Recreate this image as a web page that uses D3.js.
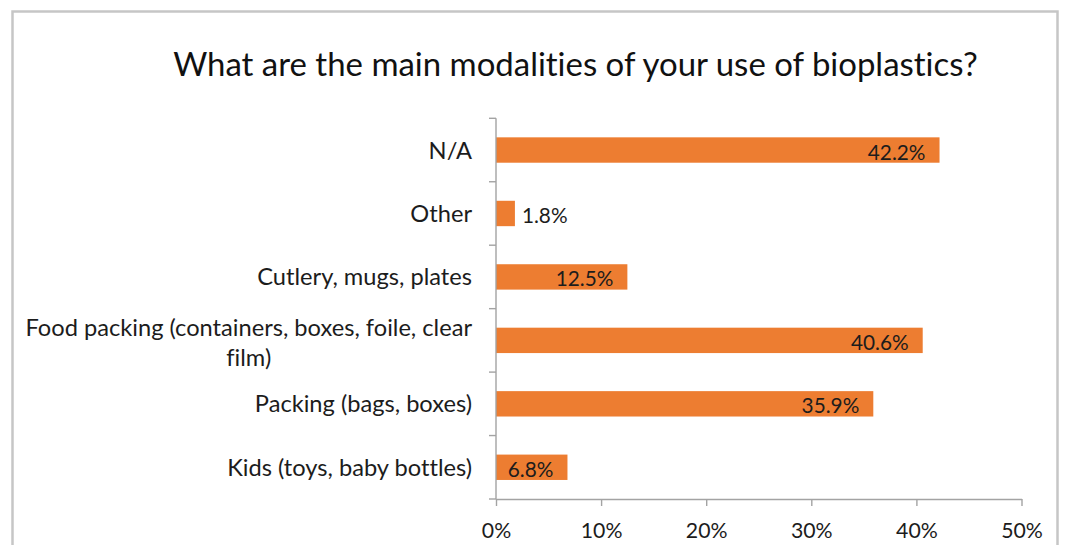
<!DOCTYPE html>
<html><head><meta charset="utf-8">
<script src="https://cdn.jsdelivr.net/npm/d3@7"></script>
<style>body{margin:0;background:#fff;} svg{display:block;} text{font-variant-ligatures:none;font-feature-settings:"liga" 0;}</style>
</head><body>
<svg id="chart" width="1065" height="545"></svg>
<script>
// ---- data ----
const title = "What are the main modalities of your use of bioplastics?";
const categories = ["N/A", "Other", "Cutlery, mugs, plates",
  "Food packing (containers, boxes, foile, clear film)",
  "Packing (bags, boxes)", "Kids (toys, baby bottles)"];
const values = [42.2, 1.8, 12.5, 40.6, 35.9, 6.8];
const valueLabels = ["42.2%", "1.8%", "12.5%", "40.6%", "35.9%", "6.8%"];
const xTicks = [0, 10, 20, 30, 40, 50];
const xTickLabels = ["0%", "10%", "20%", "30%", "40%", "50%"];

// ---- style / layout ----
const FONT = "Lato, 'Open Sans', sans-serif";
const TEXT = "#1c1c1c";
const AXIS = "#a3a3a3";
const BAR = "#ED7D31";
const plot = {left: 496, right: 1021.5, top: 118.3, bottom: 499};

const svg = d3.select("#chart");
function measure(text, size) {
  const t = svg.append("text").attr("font-family", FONT).attr("font-size", size).text(text);
  const w = t.node().getComputedTextLength(); t.remove(); return w;
}
const catSize = 100 * 245 / measure("Kids (toys, baby bottles)", 100);
const tickSize = 100 * 41.7 / measure("10%", 100);
const valSize = 100 * 57.7 / measure("42.2%", 100);
const titleSize = 100 * 805 / measure(title, 100);

// border
svg.append("rect").attr("x", 12.5).attr("y", 11.5).attr("width", 1045).attr("height", 560)
  .attr("fill", "none").attr("stroke", "#c6c6c6").attr("stroke-width", 2.5);

// title
svg.append("text").attr("x", 575.5).attr("y", 76).attr("text-anchor", "middle")
  .attr("font-family", FONT).attr("font-size", titleSize).attr("fill", "#111").text(title);

// scales
const x = d3.scaleLinear().domain([0, 50]).range([plot.left, plot.right]);
const y = d3.scaleBand().domain(categories).range([plot.top, plot.bottom])
  .paddingInner(0.6).paddingOuter(0.3);

// bars
svg.append("g").selectAll("rect").data(categories).join("rect")
  .attr("x", x(0)).attr("y", d => y(d))
  .attr("width", (d, i) => x(values[i]) - x(0)).attr("height", y.bandwidth())
  .attr("fill", BAR);

// x axis
const xAxis = d3.axisBottom(x).tickValues(xTicks).tickFormat((d, i) => xTickLabels[i])
  .tickSizeInner(7).tickSizeOuter(0).tickPadding(17);
const gx = svg.append("g").attr("transform", `translate(0,${plot.bottom})`).call(xAxis);
gx.select(".domain").attr("stroke", AXIS).attr("stroke-width", 1.4);
gx.selectAll(".tick line").attr("stroke", AXIS).attr("stroke-width", 1.4);
gx.selectAll(".tick text").attr("font-family", FONT).attr("font-size", tickSize).attr("fill", TEXT);

// y axis (category boundaries)
const gy = svg.append("g");
gy.append("line").attr("x1", x(0)).attr("x2", x(0)).attr("y1", plot.top).attr("y2", plot.bottom)
  .attr("stroke", AXIS).attr("stroke-width", 1.4);
const bounds = d3.range(categories.length + 1).map(i => y.range()[0] + i * y.step());
gy.selectAll("line.tk").data(bounds).join("line").attr("class", "tk")
  .attr("x1", x(0) - 7).attr("x2", x(0)).attr("y1", d => d).attr("y2", d => d)
  .attr("stroke", AXIS).attr("stroke-width", 1.4);

// category labels with wrapping
const labelRight = 472, maxW = 462, lineH = 30;
function wrap(text) {
  const words = text.split(" "); const lines = []; let cur = "";
  for (const w of words) {
    const test = cur ? cur + " " + w : w;
    if (cur && measure(test, catSize) > maxW) { lines.push(cur); cur = w; } else cur = test;
  }
  lines.push(cur); return lines;
}
categories.forEach(c => {
  const lines = wrap(c);
  const cy = y(c) + y.bandwidth() / 2;
  const widths = lines.map(l => measure(l, catSize));
  const bw = d3.max(widths);
  const t = svg.append("text").attr("font-family", FONT).attr("font-size", catSize).attr("fill", TEXT);
  lines.forEach((l, i) => {
    const off = (i - (lines.length - 1) / 2) * lineH;
    t.append("tspan").attr("x", lines.length > 1 ? labelRight - bw / 2 : labelRight)
      .attr("text-anchor", lines.length > 1 ? "middle" : "end")
      .attr("y", cy + off + (lines.length > 1 ? 2 : 0)).attr("dy", "0.36em").text(l);
  });
});

// value labels
svg.append("g").selectAll("text").data(categories).join("text")
  .each(function(d, i) {
    const tw = measure(valueLabels[i], valSize);
    const bw = x(values[i]) - x(0);
    const inside = bw > tw + 20;
    d3.select(this).attr("x", inside ? x(values[i]) - 14 : x(values[i]) + 7)
      .attr("text-anchor", inside ? "end" : "start");
  })
  .attr("y", d => y(d) + y.bandwidth() / 2 + 2).attr("dy", "0.36em")
  .attr("font-family", FONT).attr("font-size", valSize).attr("fill", TEXT)
  .text((d, i) => valueLabels[i]);
</script>
</body></html>
